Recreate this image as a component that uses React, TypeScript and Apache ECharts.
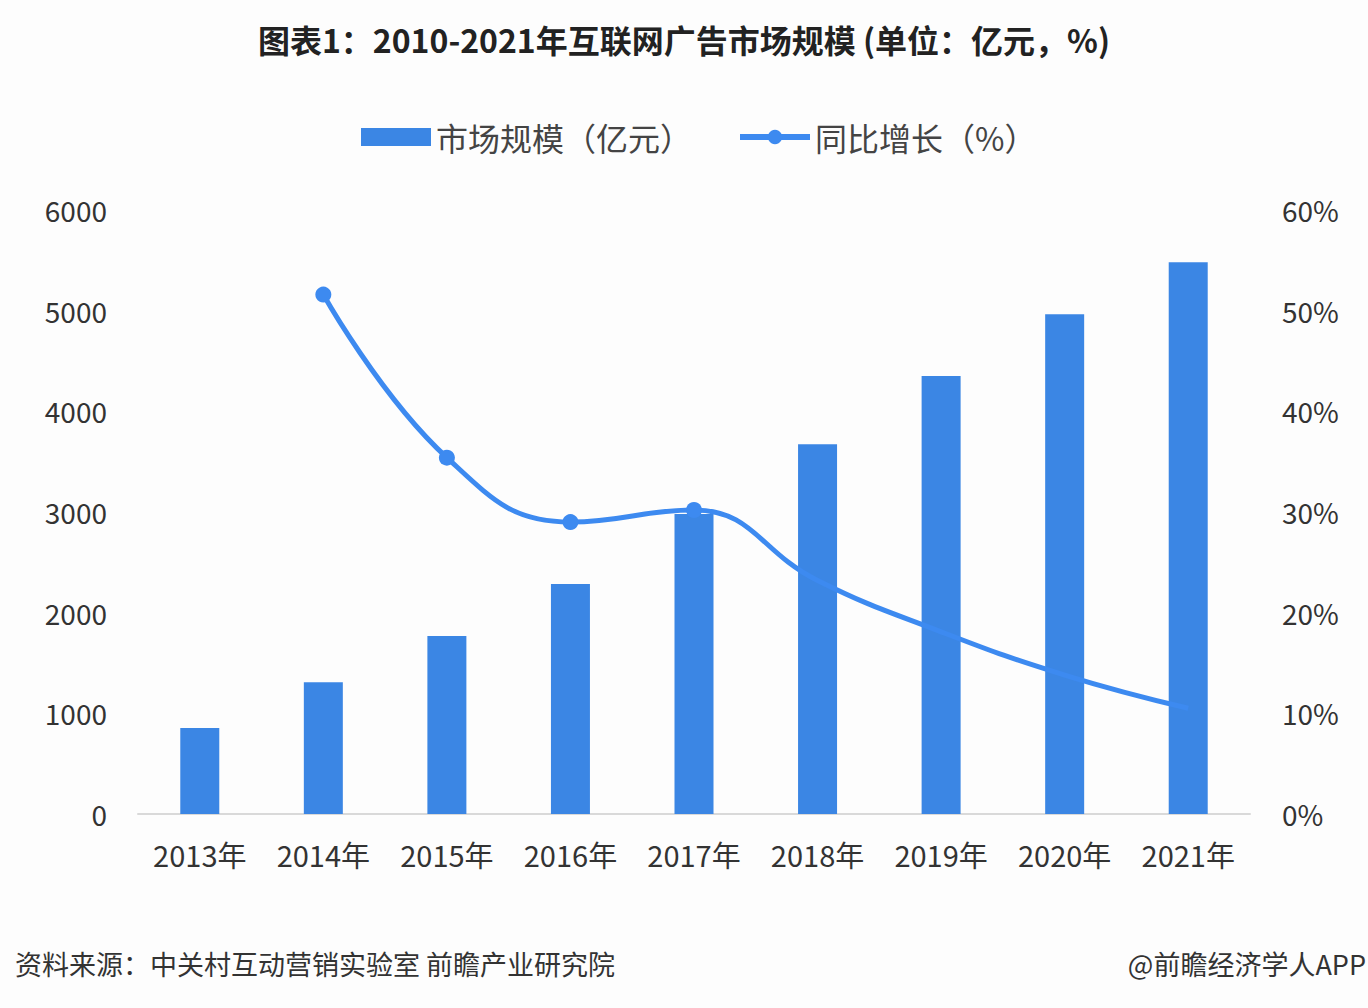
import React, { useEffect, useRef } from "react";
import * as echarts from "echarts";

const years = ["2013年", "2014年", "2015年", "2016年", "2017年", "2018年", "2019年", "2020年", "2021年"];
const marketSize = [855, 1310, 1768, 2284, 2980, 3674, 4350, 4965, 5482];
const growthRate: (number | string)[] = ["-", 51.6, 35.4, 29.0, 30.2, 23.2, 18.1, 13.8, 10.5];
const markerShown = [false, true, true, true, true, false, false, false, false];

const FONT = "'Noto Sans CJK SC', 'Noto Sans', sans-serif";

export default function App() {
  const ref = useRef<HTMLDivElement>(null);
  useEffect(() => {
    document.body.style.margin = "0";
    const chart = echarts.init(ref.current!, null, { renderer: "svg" });
    chart.setOption({
      animation: false,
      backgroundColor: "#fdfdfd",
      textStyle: { fontFamily: FONT },
      title: {
        text: "图表1：2010-2021年互联网广告市场规模 (单位：亿元，%)",
        left: "center",
        top: 18,
        textStyle: { fontSize: 32, fontWeight: "bold", color: "#222", fontFamily: FONT },
      },
      legend: {
        top: 116,
        left: 356,
        itemGap: 45,
        itemWidth: 70,
        itemHeight: 18,
        textStyle: { fontSize: 32, color: "#444", fontFamily: FONT },
        data: [
          { name: "市场规模（亿元）", icon: "rect" },
          { name: "同比增长（%）", lineStyle: { width: 6 } },
        ],
      },
      grid: { left: 138, right: 118, top: 210, bottom: 194 },
      xAxis: {
        type: "category",
        data: years,
        axisLine: { lineStyle: { color: "#d9d9d9", width: 2 } },
        axisTick: { show: false },
        axisLabel: { fontSize: 29, color: "#333", margin: 25, fontFamily: FONT },
      },
      yAxis: [
        {
          type: "value",
          min: 0,
          max: 6000,
          interval: 1000,
          splitLine: { show: false },
          axisLine: { show: false },
          axisTick: { show: false },
          axisLabel: { fontSize: 28, color: "#333", margin: 31, formatter: (v: number) => String(v), fontFamily: FONT },
        },
        {
          type: "value",
          min: 0,
          max: 60,
          interval: 10,
          splitLine: { show: false },
          axisLine: { show: false },
          axisTick: { show: false },
          axisLabel: { fontSize: 28, color: "#333", margin: 32, formatter: "{value}%", fontFamily: FONT },
        },
      ],
      series: [
        {
          name: "市场规模（亿元）",
          type: "bar",
          data: marketSize,
          barWidth: 39,
          itemStyle: { color: "#3b86e4" },
        },
        {
          name: "同比增长（%）",
          type: "line",
          yAxisIndex: 1,
          data: growthRate.map((v, i) => (markerShown[i] ? v : { value: v, symbol: "none" })),
          smooth: 0.45,
          symbol: "circle",
          symbolSize: 16,
          lineStyle: { color: "#3d8af0", width: 5 },
          itemStyle: { color: "#3d8af0" },
          z: 5,
        },
      ],
      graphic: [
        {
          type: "text",
          left: 15,
          top: 950,
          style: { text: "资料来源：中关村互动营销实验室 前瞻产业研究院", fontSize: 27, fill: "#333", fontFamily: FONT },
        },
        {
          type: "text",
          right: 2,
          top: 950,
          style: { text: "@前瞻经济学人APP", fontSize: 27, fill: "#333", fontFamily: FONT },
        },
      ],
    });
    return () => chart.dispose();
  }, []);
  return <div ref={ref} style={{ width: 1368, height: 1008 }} />;
}
